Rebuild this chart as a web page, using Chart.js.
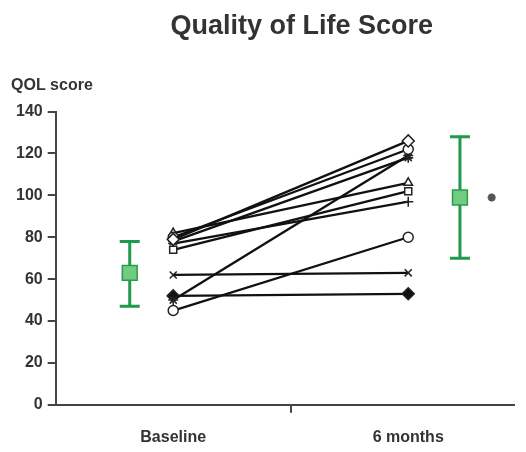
<!DOCTYPE html>
<html>
<head>
<meta charset="utf-8">
<script src="https://cdn.jsdelivr.net/npm/chart.js@4/dist/chart.umd.min.js"></script>
<style>
  html, body { margin: 0; padding: 0; background: #fff; }
  #wrap { width: 526px; height: 452px; }
</style>
</head>
<body>
<div id="wrap"><canvas id="qolChart"></canvas></div>
<script>
'use strict';

// time points and tick labels
let timepoints = ['Baseline', '6 months'];
let yTicks = [0, 20, 40, 60, 80, 100, 120, 140];

// one entry per patient: score at baseline and at 6 months
let baselineScores = [79, 80, 78, 82, 74, 77, 50, 45, 62, 52];
let sixMonthScores = [126, 122, 118, 106, 102, 97, 119, 80, 63, 53];

// group summary (mean with error bar)
let meanScores = [63, 99];
let lowScores = [47, 70];
let highScores = [78, 128];

// marker for each patient
let markerStyles = ['rectRot', 'circle', 'star', 'triangle', 'rect', 'cross', 'star', 'circle', 'crossRot', 'rectRot'];
let markerFills = ['#fff', '#fff', '#fff', '#fff', '#fff', '#fff', '#fff', '#fff', '#fff', '#111'];

// where things sit along the x axis (categories centred at 0.5 and 1.5)
let patientX = [0.5, 1.5];
let meanX = [0.315, 1.72];
let starX = 1.855;

let greenLine = '#1f9a4c';
let fontFamily = 'Liberation Sans, Arial, sans-serif';

let datasets = [];
for (let i = 0; i < baselineScores.length; i++) {
    datasets.push({
        type: 'line',
        data: [
            { x: patientX[0], y: baselineScores[i] },
            { x: patientX[1], y: sixMonthScores[i] }
        ],
        borderColor: '#111',
        borderWidth: 2.3,
        pointStyle: markerStyles[i],
        pointRadius: markerStyles[i] === 'rectRot' ? 6 : 5,
        pointBorderColor: '#222',
        pointBorderWidth: 1.5,
        pointBackgroundColor: markerFills[i]
    });
}

// means as green squares
datasets.push({
    type: 'scatter',
    data: [
        { x: meanX[0], y: meanScores[0] },
        { x: meanX[1], y: meanScores[1] }
    ],
    pointStyle: 'rect',
    pointRadius: 10.5,
    pointBorderColor: '#2a9a4e',
    pointBorderWidth: 1.5,
    pointBackgroundColor: '#72cc80'
});

// significance mark next to 6 month mean
datasets.push({
    type: 'scatter',
    data: [{ x: starX, y: meanScores[1] }],
    pointStyle: 'star',
    pointRadius: 4,
    pointBorderColor: '#555',
    pointBorderWidth: 2.5
});

// draws the whiskers behind the green squares
let errorBars = {
    id: 'errorBars',
    beforeDatasetsDraw(chart) {
        let ctx = chart.ctx;
        let xs = chart.scales.x;
        let ys = chart.scales.y;
        ctx.save();
        ctx.strokeStyle = greenLine;
        ctx.lineWidth = 3;
        for (let i = 0; i < meanScores.length; i++) {
            let px = xs.getPixelForValue(meanX[i]);
            let top = ys.getPixelForValue(highScores[i]);
            let bot = ys.getPixelForValue(lowScores[i]);
            ctx.beginPath();
            ctx.moveTo(px, top);
            ctx.lineTo(px, bot);
            ctx.moveTo(px - 10, top);
            ctx.lineTo(px + 10, top);
            ctx.moveTo(px - 10, bot);
            ctx.lineTo(px + 10, bot);
            ctx.stroke();
        }
        ctx.restore();
    }
};

// title sits a little right of centre in the original
let titleNudge = {
    id: 'titleNudge',
    afterLayout(chart) {
        if (chart.titleBlock) {
            chart.titleBlock.left += 17;
            chart.titleBlock.right += 17;
        }
    }
};

let ctx = document.getElementById('qolChart').getContext('2d');
let chart = new Chart(ctx, {
    data: { datasets: datasets },
    plugins: [errorBars, titleNudge],
    options: {
        responsive: true,
        maintainAspectRatio: false,
        animation: false,
        layout: { padding: { left: 11, right: 0, top: 10, bottom: -10 } },
        plugins: {
            legend: { display: false },
            tooltip: { enabled: false },
            title: {
                display: true,
                fullSize: false,
                text: 'Quality of Life Score',
                color: '#333',
                font: { family: fontFamily, size: 27, weight: 'bold' },
                padding: { top: 0, bottom: 34 }
            },
            subtitle: {
                display: true,
                text: 'QOL score',
                align: 'start',
                color: '#333',
                font: { family: fontFamily, size: 16, weight: 'bold' },
                padding: { top: 0, bottom: 16 }
            }
        },
        scales: {
            x: {
                type: 'linear',
                min: 0,
                max: 1.95,
                afterBuildTicks(scale) {
                    scale.ticks = [{ value: patientX[0] }, { value: 1 }, { value: patientX[1] }];
                },
                ticks: {
                    autoSkip: false,
                    maxRotation: 0,
                    padding: 15,
                    color: '#333',
                    font: { family: fontFamily, size: 16, weight: 'bold' },
                    callback(value) {
                        if (value === patientX[0]) return timepoints[0];
                        if (value === patientX[1]) return timepoints[1];
                        return '';
                    }
                },
                grid: {
                    drawOnChartArea: false,
                    tickLength: 8,
                    lineWidth: 2,
                    color(c) {
                        return c.tick && c.tick.value === 1 ? '#444' : 'rgba(0,0,0,0)';
                    }
                },
                border: { color: '#444', width: 2 }
            },
            y: {
                min: 0,
                max: 140,
                afterBuildTicks(scale) {
                    scale.ticks = yTicks.map(v => ({ value: v }));
                },
                ticks: {
                    padding: 5,
                    color: '#333',
                    font: { family: fontFamily, size: 16, weight: 'bold' }
                },
                grid: {
                    drawOnChartArea: false,
                    tickLength: 8,
                    lineWidth: 2,
                    color: '#444'
                },
                border: { color: '#444', width: 2 }
            }
        }
    }
});
</script>
</body>
</html>
